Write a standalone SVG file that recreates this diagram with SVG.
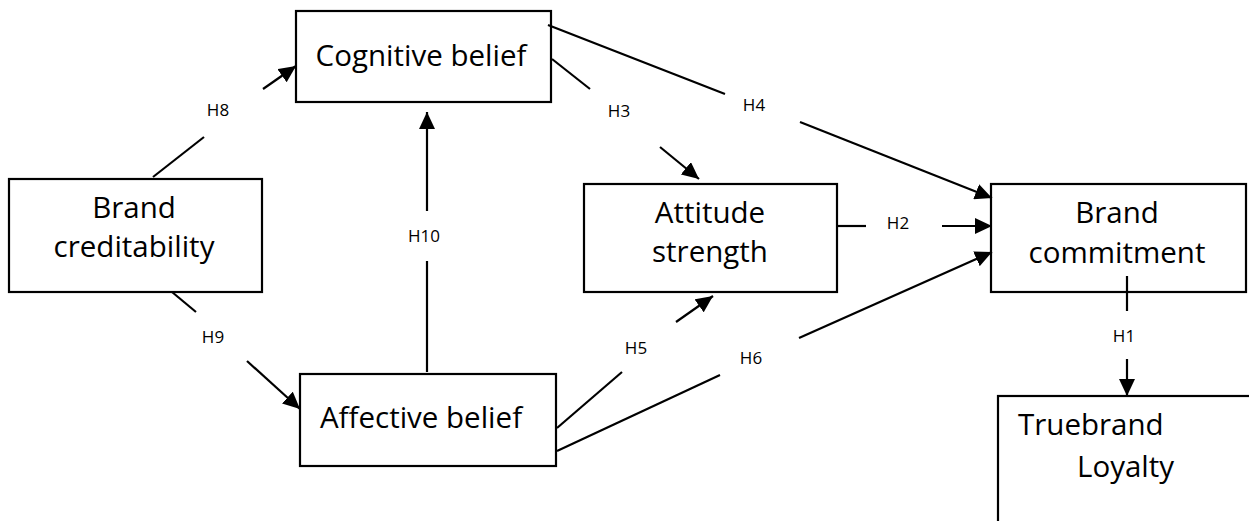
<svg xmlns="http://www.w3.org/2000/svg" width="1249" height="521" viewBox="0 0 1249 521">
<style>
.box{fill:#fff;stroke:#000;stroke-width:2.2}
.t{font-family:"Open Sans","Noto Sans",sans-serif;font-size:29.5px;fill:#000}
.c{text-anchor:middle}
.lbl{font-family:"Open Sans","Noto Sans",sans-serif;font-size:17px;fill:#000;text-anchor:middle}
.ln{stroke:#000;stroke-width:2.2;fill:none}
</style>
<defs>
<marker id="ah" markerUnits="userSpaceOnUse" markerWidth="18" markerHeight="16" refX="17" refY="8" orient="auto">
<path d="M0,0 L17,8 L0,16 z" fill="#000"/>
</marker>
</defs>
<rect width="1249" height="521" fill="#fff"/>
<g id="cognitive"><rect class="box" x="296" y="11" width="255" height="91"/><text class="t c" x="421" y="66">Cognitive belief</text></g>
<g id="credibility"><rect class="box" x="9" y="179" width="253" height="113"/><text class="t c" x="134" y="218">Brand</text><text class="t c" x="134" y="257">creditability</text></g>
<g id="affective"><rect class="box" x="300" y="374" width="256" height="92"/><text class="t c" x="421" y="428">Affective belief</text></g>
<g id="attitude"><rect class="box" x="584" y="184" width="253" height="108"/><text class="t c" x="710" y="223">Attitude</text><text class="t c" x="710" y="262">strength</text></g>
<g id="commitment"><rect class="box" x="991" y="184" width="255" height="108"/><text class="t c" x="1117" y="223">Brand</text><text class="t c" x="1117" y="263">commitment</text></g>
<g id="loyalty"><rect class="box" x="998" y="396" width="270" height="140"/><text class="t" x="1018" y="435">Truebrand</text><text class="t" x="1077" y="477">Loyalty</text></g>
<g id="connectors">
<line class="ln" x1="153" y1="177" x2="204" y2="137"/><line class="ln" x1="263" y1="89" x2="296" y2="66" marker-end="url(#ah)"/>
<line class="ln" x1="172" y1="292" x2="196" y2="312"/><line class="ln" x1="247" y1="361" x2="300" y2="409" marker-end="url(#ah)"/>
<line class="ln" x1="427" y1="372" x2="427" y2="261"/><line class="ln" x1="427" y1="211" x2="427" y2="112" marker-end="url(#ah)"/>
<line class="ln" x1="552" y1="59" x2="590" y2="89"/><line class="ln" x1="660" y1="147" x2="699" y2="179" marker-end="url(#ah)"/>
<line class="ln" x1="548" y1="25" x2="725" y2="94"/><line class="ln" x1="800" y1="122" x2="992" y2="198" marker-end="url(#ah)"/>
<line class="ln" x1="837" y1="226" x2="866" y2="226"/><line class="ln" x1="942" y1="226" x2="992" y2="226" marker-end="url(#ah)"/>
<line class="ln" x1="557" y1="451" x2="720" y2="375"/><line class="ln" x1="799" y1="338" x2="992" y2="252" marker-end="url(#ah)"/>
<line class="ln" x1="557" y1="428" x2="622" y2="372"/><line class="ln" x1="676" y1="322" x2="713" y2="296" marker-end="url(#ah)"/>
<line class="ln" x1="1127" y1="276" x2="1127" y2="311"/><line class="ln" x1="1127" y1="359" x2="1127" y2="396" marker-end="url(#ah)"/>
<text class="lbl" x="218" y="116">H8</text>
<text class="lbl" x="213" y="343">H9</text>
<text class="lbl" x="424" y="242">H10</text>
<text class="lbl" x="619" y="117">H3</text>
<text class="lbl" x="754" y="111">H4</text>
<text class="lbl" x="898" y="229">H2</text>
<text class="lbl" x="636" y="354">H5</text>
<text class="lbl" x="751" y="364">H6</text>
<text class="lbl" x="1124" y="342">H1</text>
</g>
</svg>
